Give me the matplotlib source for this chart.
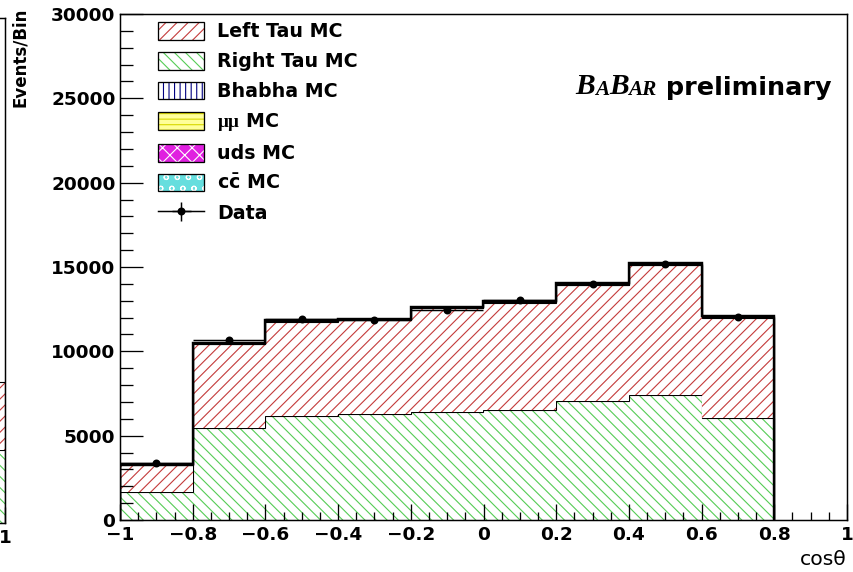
import numpy as np
import matplotlib.pyplot as plt
from matplotlib.patches import Patch
from matplotlib.lines import Line2D
from matplotlib.ticker import MultipleLocator, FuncFormatter

# bins in cos(theta)
edges = [-1.0, -0.8, -0.6, -0.4, -0.2, 0.0, 0.2, 0.4, 0.6, 0.8]
# stacked MC, events / bin (bottom to top)
right_tau = [1680, 5470, 6180, 6280, 6420, 6520, 7070, 7410, 6060]
left_tau = [1580, 4950, 5580, 5550, 6120, 6360, 6860, 7690, 5930]
bhabha = [10, 30, 30, 30, 30, 30, 30, 40, 30]
mumu = [10, 30, 30, 30, 30, 30, 30, 40, 30]
uds = [10, 20, 20, 20, 20, 20, 20, 20, 20]
ccbar = [10, 20, 20, 20, 20, 20, 20, 20, 20]
data = [3370, 10650, 11900, 11870, 12450, 13020, 13970, 15160, 12050]

# neighbouring panel (only its right edge is visible)
side_edges = [0.8, 1.0]
side_right_tau = [4340]
side_left_tau = [4040]

dpi = 133
plt.rcParams['font.family'] = 'DejaVu Sans'
plt.rcParams['font.weight'] = 'bold'
plt.rcParams['hatch.linewidth'] = 0.6
plt.rcParams['mathtext.fontset'] = 'custom'
plt.rcParams['mathtext.rm'] = 'Liberation Serif'
plt.rcParams['mathtext.bf'] = 'DejaVu Sans:bold'

fig = plt.figure(figsize=(853 / dpi, 572 / dpi), dpi=dpi)


def style_axes(a):
    a.set_xlim(-1, 1)
    a.set_ylim(0, 30000)
    a.xaxis.set_major_locator(MultipleLocator(0.2))
    a.xaxis.set_minor_locator(MultipleLocator(0.05))
    a.yaxis.set_major_locator(MultipleLocator(5000))
    a.yaxis.set_minor_locator(MultipleLocator(1000))
    a.xaxis.set_major_formatter(FuncFormatter(
        lambda v, p: ('%g' % round(v, 2)).replace('-', '\u2212')))
    a.tick_params(which='both', direction='in', top=False, right=False,
                  width=0.7, labelsize=10)
    a.tick_params(axis='y', which='major', length=12.5, pad=2.5)
    a.tick_params(axis='y', which='minor', length=7)
    a.tick_params(axis='x', which='major', length=8.5, pad=3.5)
    a.tick_params(axis='x', which='minor', length=4.3)
    for s in a.spines.values():
        s.set_linewidth(0.8)


# left neighbour panel, mostly outside the figure
ax0 = fig.add_axes([(5 - 727) / 853, 49 / 572, 727 / 853, 505 / 572])
style_axes(ax0)
ax0.tick_params(labelleft=False)
ax0.xaxis.set_major_formatter(FuncFormatter(lambda v, p: '1' if v > 0.99 else ''))
b0 = np.zeros(1)
for vals, c, h in [(side_right_tau, '#55cc55', '\\\\\\\\'), (side_left_tau, '#c43b3b', '////')]:
    t0 = b0 + np.array(vals)
    ax0.stairs(t0, side_edges, baseline=b0, fill=True, facecolor='white',
               edgecolor=c, hatch=h, lw=0)
    ax0.stairs(t0, side_edges, color='black', lw=0.6)
    b0 = t0

# main panel
ax = fig.add_axes([120 / 853, 52 / 572, 727 / 853, 506 / 572])
style_axes(ax)

layers = [right_tau, left_tau, bhabha, mumu, uds, ccbar]
# hatch colour, hatch pattern, fill colour
colors = ['#55cc55', '#c43b3b', '#000080', '#d8d800', 'white', 'white']
hatches = ['\\\\\\\\', '////', '||||', '----', 'xxx', 'oo']
faces = ['white', 'white', 'white', '#ffff99', '#e020e0', '#66dede']

base = np.zeros(len(edges) - 1)
for vals, c, h, f in zip(layers, colors, hatches, faces):
    top = base + np.array(vals)
    ax.stairs(top, edges, baseline=base, fill=True, facecolor=f,
              edgecolor=c, hatch=h, lw=0)
    ax.stairs(top, edges, color='black', lw=0.6)
    base = top
ax.stairs(base, edges, color='black', lw=1.3)

centers = (np.array(edges[:-1]) + np.array(edges[1:])) / 2
err = ax.errorbar(centers, data, xerr=0.1, yerr=np.sqrt(data), fmt='o',
                  color='black', ms=3.3, elinewidth=0.8, capsize=0)

# legend in ROOT style
order = [1, 0, 2, 3, 4, 5]
labels = ['Left Tau MC', 'Right Tau MC', 'Bhabha MC', r'$\mathrm{\mu\mu}$ MC',
          'uds MC', r'$\mathbf{c\bar{c}}$ MC', 'Data']
handles = []
for i in order:
    handles.append((Patch(facecolor=faces[i], edgecolor=colors[i], hatch=hatches[i], lw=0),
                    Patch(facecolor='none', edgecolor='black', lw=0.7)))
handles.append((Line2D([], [], color='black', lw=0.8), err))
ax.legend(handles, labels, loc='upper left', bbox_to_anchor=(0.052, 0.984),
          borderaxespad=0, borderpad=0, frameon=False, fontsize=10.3,
          handlelength=2.45, handleheight=1.05, labelspacing=0.55,
          handletextpad=0.65)

# BaBar label
t = ax.text(0.626, 0.830, 'B', transform=ax.transAxes, fontsize=16,
            family='Liberation Serif', style='italic', weight='bold', va='bottom')
for s, fs in [('A', 11.5), ('B', 16), ('AR', 11.5)]:
    t = ax.annotate(s, xy=(1, 0), xycoords=t, fontsize=fs, va='bottom',
                    family='Liberation Serif', style='italic', weight='bold')
ax.annotate(' preliminary', xy=(1, 0), xycoords=t, fontsize=13.8, va='bottom')

ax.set_xlabel('cos\u03b8', loc='right', fontsize=11, labelpad=3)
fig.text(20 / 853, 1 - 8 / 572, 'Events/Bin', rotation=90, ha='center',
         va='top', fontsize=9)

fig.savefig('out.png', dpi=dpi)
